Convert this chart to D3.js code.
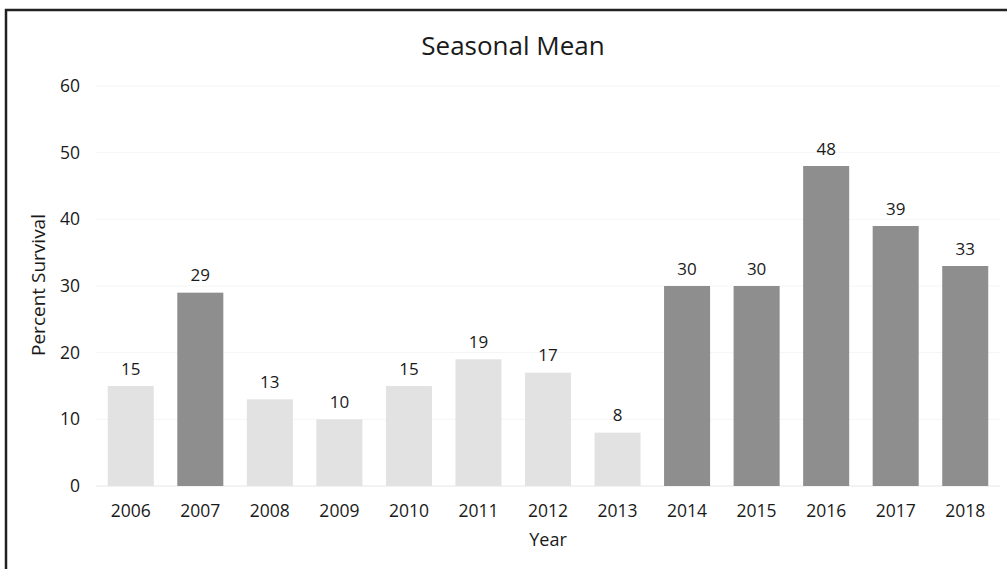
<!DOCTYPE html>
<html>
<head>
<meta charset="utf-8">
<script src="https://d3js.org/d3.v7.min.js"></script>
<style>
  body { margin: 0; background: #fff; }
  text { font-family: "Open Sans", "Noto Sans", sans-serif; fill: #1a1a1a; }
</style>
</head>
<body>
<div id="chart"></div>
<script>
// data
var years = ["2006","2007","2008","2009","2010","2011","2012","2013","2014","2015","2016","2017","2018"];
var survival = [15, 29, 13, 10, 15, 19, 17, 8, 30, 30, 48, 39, 33];
var darkYears = ["2007","2014","2015","2016","2017","2018"];
var yTicks = [0, 10, 20, 30, 40, 50, 60];

var W = 1007, H = 569;
var svg = d3.select("#chart").append("svg")
  .attr("width", W).attr("height", H);

// frame (only top and left edges show in the scan)
svg.append("rect")
  .attr("x", 6).attr("y", 10)
  .attr("width", W + 10).attr("height", H + 10)
  .attr("fill", "none").attr("stroke", "#222").attr("stroke-width", 2.5);

var x = d3.scaleBand().domain(years).range([96, 1000]).paddingInner(0.338).paddingOuter(0.169);
var y = d3.scaleLinear().domain([0, 60]).range([486, 86]);

// faint gridlines
svg.append("g").selectAll("line").data(yTicks).join("line")
  .attr("x1", 96).attr("x2", 1000)
  .attr("y1", d => y(d)).attr("y2", d => y(d))
  .attr("stroke", d => d === 0 ? "#e6e6e6" : "#f5f5f5").attr("stroke-width", 1);

// y axis labels
var yAxis = d3.axisLeft(y).tickValues(yTicks).tickSize(0).tickPadding(0);
svg.append("g").attr("transform", "translate(80,0)").call(yAxis)
  .call(g => g.select(".domain").remove())
  .selectAll("text").style("font-size", "17.5px").attr("fill", "#1a1a1a");

// x axis labels
var xAxis = d3.axisBottom(x).tickSize(0).tickPadding(0);
svg.append("g").attr("transform", "translate(0,486)").call(xAxis)
  .call(g => g.select(".domain").remove())
  .selectAll("text").attr("dy", null).attr("y", 31)
  .style("font-size", "17.5px").attr("fill", "#1a1a1a");

// bars
var data = years.map((yr, i) => ({year: yr, value: survival[i]}));
svg.append("g").selectAll("rect").data(data).join("rect")
  .attr("x", d => x(d.year))
  .attr("width", x.bandwidth())
  .attr("y", d => y(d.value))
  .attr("height", d => y(0) - y(d.value))
  .attr("fill", d => darkYears.includes(d.year) ? "#8e8e8e" : "#e2e2e2");

// value labels
svg.append("g").selectAll("text").data(data).join("text")
  .attr("x", d => x(d.year) + x.bandwidth() / 2)
  .attr("y", d => y(d.value) - 11.5)
  .attr("text-anchor", "middle")
  .style("font-size", "17px")
  .text(d => d.value);

// title
svg.append("text")
  .attr("x", 513).attr("y", 55)
  .attr("text-anchor", "middle")
  .style("font-size", "26px")
  .text("Seasonal Mean");

// axis titles
svg.append("text")
  .attr("x", 548).attr("y", 546)
  .attr("text-anchor", "middle")
  .style("font-size", "18px")
  .text("Year");

svg.append("text")
  .attr("transform", "translate(45,285) rotate(-90)")
  .attr("text-anchor", "middle")
  .style("font-size", "19px")
  .text("Percent Survival");
</script>
</body>
</html>
